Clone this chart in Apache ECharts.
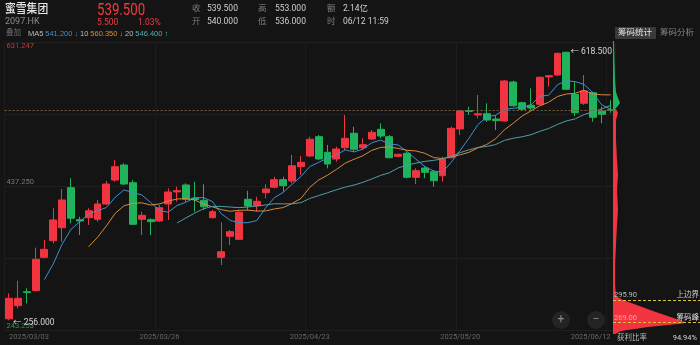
<!DOCTYPE html>
<html><head><meta charset="utf-8">
<script src="https://cdn.jsdelivr.net/npm/echarts@6/dist/echarts.min.js"></script>
<style>html,body{margin:0;padding:0;background:#141414;}#c{width:700px;height:345px;}</style>
</head><body><div id="c"></div>
<script>
const dates = ['2025/03/03','2025/03/04','2025/03/05','2025/03/06','2025/03/07','2025/03/10','2025/03/11','2025/03/12','2025/03/13','2025/03/14','2025/03/17','2025/03/18','2025/03/19','2025/03/20','2025/03/21','2025/03/24','2025/03/25','2025/03/26','2025/03/27','2025/03/28','2025/03/31',
'2025/04/01','2025/04/02','2025/04/03','2025/04/07','2025/04/08','2025/04/09','2025/04/10','2025/04/11','2025/04/14','2025/04/15','2025/04/16','2025/04/17','2025/04/22','2025/04/23','2025/04/24','2025/04/25','2025/04/28','2025/04/29','2025/04/30',
'2025/05/02','2025/05/06','2025/05/07','2025/05/08','2025/05/09','2025/05/12','2025/05/13','2025/05/14','2025/05/15','2025/05/16','2025/05/19','2025/05/20','2025/05/21','2025/05/22','2025/05/23','2025/05/26','2025/05/27','2025/05/28','2025/05/29','2025/05/30',
'2025/06/02','2025/06/03','2025/06/04','2025/06/05','2025/06/06','2025/06/09','2025/06/10','2025/06/11','2025/06/12'];
const opens = [258,275.7,294.5,296,341,363.4,381,435,391.8,394.5,392.3,413,445.3,465.6,441.7,392.3,391.8,390,413,429.2,438.6,
421,417.9,394.5,341,369.4,365.3,419.3,410.7,428.2,435.5,445.8,444,463.3,477.7,503.8,482.7,473.7,488.9,508.4,
488.9,500.7,513.8,503.8,477.3,481.4,449,461.5,456.5,451.1,475.4,514.2,539,533.1,534.8,527.7,525,577.6,549.7,546.2,
547.5,584.4,587,617.7,561,548.9,563.2,538.5,540];
const closes = [285.7,285.7,293.5,338.3,351.8,391.4,418.4,393.7,390,403.9,413,439.9,463.3,439.9,385.6,397.7,389.1,408,429.2,431,419.3,
419,409.3,402.6,348.6,375.6,401.8,410.3,416.6,433.2,445.8,437.7,464.6,469.2,500.3,473.7,466.9,487.2,501.6,486.8,
493,509.7,504.7,475.4,480,449,457.9,455.7,444.4,473.3,515.1,538.5,538,534.8,526.3,525.4,579,545.6,540.8,542.5,
584,586.1,616.3,567.8,536.2,565.5,530,534,539.5];
const lows = [256,272.2,279,294.5,339.7,359.9,362.1,386.9,371.1,384.6,389.1,411.6,443.1,438.6,384.6,371.1,371,389,391.4,416,416,
402.6,404.9,393.7,330.6,357.6,364.4,404.9,402.6,420.7,434.1,429.6,440.9,452.1,476,472.3,461.1,470,485.8,483.5,
485.8,499.3,501.6,474.6,476,447.6,439.9,447.6,436.3,443.1,474.6,506.1,533.1,528.6,524,512.8,524,544.3,539.8,539.8,
546.6,571.3,586.1,566.8,531.7,546.6,524,521.9,536];
const highs = [292.4,309.4,299.2,354,364.4,407.2,433.2,447.6,395.8,407.2,418.4,444,472.3,467.9,445.3,402.6,393.7,411.6,434.1,436.3,440.9,
443,439.5,404.9,388.3,377.9,403.9,430.9,422.8,439.5,449.8,449.8,479.1,477.7,503.8,506.1,492.6,490.3,533.1,517.3,
501.6,512.8,521.9,506.1,481,483.5,461.1,464.2,458.8,476.8,517.3,539.8,544.3,560.1,548.9,533.1,580.3,579.4,551,569.1,
584.8,587,617.2,618.5,578,587,564.5,544.3,553];
const ma5 = ['-','-','-','-',311.0,332.14,358.68,378.72,389.06,399.48,403.8,408.1,422.02,432.0,428.34,425.28,415.12,404.06,401.92,411.0,415.32,
421.3,421.56,416.24,399.76,391.02,387.58,387.78,390.58,407.5,421.54,428.72,439.58,450.1,463.52,469.1,474.94,479.46,485.94,483.24,
487.1,495.66,499.16,493.92,492.56,483.76,473.4,463.6,457.4,456.06,469.28,485.4,501.86,519.94,530.54,532.6,540.7,542.22,543.42,546.66,
558.38,559.8,573.94,579.34,578.08,574.38,563.16,546.7,541.04];
const ma10 = ['-','-','-','-','-','-','-','-','-',355.24,367.97,383.39,400.37,410.53,413.91,414.54,411.61,413.04,416.96,419.67,420.3,
418.21,412.81,409.08,405.38,403.17,404.44,404.67,403.41,403.63,406.28,408.15,413.68,420.34,435.51,445.32,451.83,459.52,468.02,473.38,
478.1,485.3,489.31,489.93,487.9,485.43,484.53,481.38,475.66,474.31,476.52,479.4,482.73,488.67,493.3,500.94,513.05,522.04,531.68,538.6,
545.49,550.25,558.08,561.38,562.37,566.38,561.48,560.32,560.19];
const ma20 = ['-','-','-','-','-','-','-','-','-','-','-','-','-','-','-','-','-','-','-',387.46,394.14,
400.8,406.59,409.81,409.65,408.86,408.03,408.86,410.19,411.65,413.29,413.18,413.25,414.71,420.45,424.25,428.14,432.1,435.72,438.51,
442.19,446.73,451.5,455.14,461.71,465.38,468.18,470.45,471.84,473.85,477.31,482.35,486.02,489.3,490.6,493.19,498.79,501.71,503.67,506.46,
511.01,514.83,520.41,525.03,527.84,533.66,537.27,541.18,545.94];
const yTickLabels = ['243.253','','437.250','','631.247'];
const yMin = 243.253, yMax = 631.247;
const lastPrice = 539.5;
const chipGreenPrices = [602.8,580.3,556.6,542.4,535.3,529.3,524.6,522.2];
const chipGreenWidths = [1,1.5,2,3,5,7,4,2];
const chipRedPrices = [522.2,517.5,509.2,485.5,461.8,444.0,426.3,402.6,384.8,361.1,337.4,313.7,300.6,295.9,282.9,269.8,268.0,263.9,259.1,255.6];
const chipRedWidths = [3,5,3,3,4,5,4,5,4,3,2,2,3,10,40,72,70,35,8,2];
const chipUpper = 295.90, chipPeak = 269.00;

const FF = 'Roboto, "Noto Sans CJK SC", sans-serif';
const UP = '#f23340', DOWN = '#1fb35c';
const candleData = opens.map((o, i) => [o, closes[i], lows[i], highs[i]]);

const chart = echarts.init(document.getElementById('c'), null, {renderer: 'canvas'});
const txt = (x, y, text, fill, size, extra, props) => Object.assign({type: 'text', x, y, silent: true,
  style: Object.assign({text, fill, fontSize: size, fontFamily: FF, verticalAlign: 'middle', align: 'left'}, extra || {})}, props || {});

chart.setOption({
  backgroundColor: '#141414',
  animation: false,
  grid: [
    {left: 4.6, right: 85, top: 42.25, bottom: 15.25},
    {left: 613, width: 87, top: 40, height: 295}
  ],
  xAxis: [
    {type: 'category', data: dates, gridIndex: 0, boundaryGap: true,
     axisLine: {show: false}, axisTick: {show: false},
     axisLabel: {interval: 16, color: '#666', fontSize: 7.5, fontFamily: FF, margin: 4, alignMinLabel: 'left', alignMaxLabel: 'right'},
     splitLine: {show: true, interval: 16, lineStyle: {color: '#1c1c1c'}}},
    {type: 'value', gridIndex: 1, min: 0, max: 87, show: false}
  ],
  yAxis: [
    {type: 'value', gridIndex: 0, min: yMin, max: yMax, interval: (yMax - yMin) / 4,
     axisLine: {show: false}, axisTick: {show: false},
     splitLine: {lineStyle: {color: '#1f1f1f'}},
     axisLabel: {inside: true, margin: 2, fontSize: 7.5, fontFamily: FF, showMinLabel: true, showMaxLabel: true,
       verticalAlign: 'bottom', verticalAlignMaxLabel: 'top', verticalAlignMinLabel: 'bottom',
       formatter: (v, i) => { const t = yTickLabels[i]; if (!t) return ''; const k = i === 0 ? 'lo' : (i === 4 ? 'hi' : 'mid'); return '{' + k + '|' + t + '}'; },
       rich: {lo: {color: '#2f9a4e', fontSize: 7.5}, mid: {color: '#777', fontSize: 7.5}, hi: {color: '#d3323c', fontSize: 7.5}}}},
    {type: 'value', gridIndex: 1, min: 254.4, max: 604, show: false}
  ],
  series: [
    {type: 'candlestick', name: 'K', data: candleData, xAxisIndex: 0, yAxisIndex: 0, barWidth: '84%',
     itemStyle: {color: UP, color0: DOWN, borderColor: UP, borderColor0: DOWN, borderWidth: 1},
     markLine: {silent: true, symbol: ['none', 'none'], label: {show: false},
       lineStyle: {color: '#7a6037', type: [2, 2], width: 1}, data: [{yAxis: lastPrice}]},
     markPoint: {symbol: 'circle', symbolSize: 0.1,
       label: {show: true, position: 'right', distance: 4, color: '#d6d6d6', fontSize: 8.5, fontFamily: FF,
         formatter: p => '← ' + Number(p.value).toFixed(3)},
       data: [{type: 'max', valueDim: 'highest'}, {type: 'min', valueDim: 'lowest', label: {offset: [0, 3]}}]}},
    {type: 'line', name: 'MA5', data: ma5, symbol: 'none', lineStyle: {color: '#3f8fd2', width: 1}, itemStyle: {color: '#3f8fd2'}},
    {type: 'line', name: 'MA10', data: ma10, symbol: 'none', lineStyle: {color: '#d68a3f', width: 1}, itemStyle: {color: '#d68a3f'}},
    {type: 'line', name: 'MA20', data: ma20, symbol: 'none', lineStyle: {color: '#4f9ea6', width: 1}, itemStyle: {color: '#4f9ea6'}},
    {type: 'custom', name: 'chips', xAxisIndex: 1, yAxisIndex: 1, clip: false, silent: true,
     data: [[0, chipGreenPrices[0]], [0, chipRedPrices[0]]],
     renderItem: (params, api) => {
       const green = params.dataIndex === 0;
       const ps = green ? chipGreenPrices : chipRedPrices;
       const ws = green ? chipGreenWidths : chipRedWidths;
       const pts = [api.coord([0, ps[0]])];
       ps.forEach((p, i) => pts.push(api.coord([ws[i], p])));
       pts.push(api.coord([0, ps[ps.length - 1]]));
       return {type: 'polygon', shape: {points: pts}, style: {fill: green ? '#1fb35c' : '#f23340'}};
     },
     markLine: {silent: true, symbol: ['none', 'none'], lineStyle: {color: '#d9c23c', type: [3, 2], width: 1},
       label: {fontSize: 7.5, fontFamily: FF, distance: 1},
       data: [
         {yAxis: chipUpper, label: {position: 'insideStartTop', formatter: chipUpper.toFixed(2), color: '#bbb'}},
         {yAxis: chipUpper, label: {position: 'insideEndTop', formatter: '上边界', color: '#ccc'}},
         {yAxis: chipPeak, label: {position: 'insideStartTop', formatter: chipPeak.toFixed(2), color: '#f3a5a5'}},
         {yAxis: chipPeak, label: {position: 'insideEndTop', formatter: '筹码峰', color: '#ddd'}}
       ]}}
  ],
  graphic: [
    txt(5, 10, '蜜雪集团', '#e6e6e6', 12, {fontWeight: 500}, {scaleX: 0.9}),
    txt(5, 22, '2097.HK', '#8a8a8a', 9),
    txt(97, 10.5, '539.500', '#f23a3f', 17, {}, {scaleX: 0.78}),
    txt(97, 22.5, '5.500', '#f23a3f', 8.5),
    txt(138, 22.5, '1.03%', '#f23a3f', 8.5),
    txt(192, 9, '收', '#7d7d7d', 8.5), txt(207, 9, '539.500', '#cfcfcf', 8.5),
    txt(192, 22, '开', '#7d7d7d', 8.5), txt(207, 22, '540.000', '#cfcfcf', 8.5),
    txt(258, 9, '高', '#7d7d7d', 8.5), txt(275, 9, '553.000', '#cfcfcf', 8.5),
    txt(258, 22, '低', '#7d7d7d', 8.5), txt(275, 22, '536.000', '#cfcfcf', 8.5),
    txt(327, 9, '额', '#7d7d7d', 8.5), txt(343, 9, '2.14亿', '#cfcfcf', 8.5),
    txt(327, 22, '时', '#7d7d7d', 8.5), txt(343, 22, '06/12 11:59', '#cfcfcf', 8.5),
    txt(6, 33.5, '叠加', '#6f6f6f', 7.5),
    {type: 'text', x: 28, y: 33.5, silent: true, style: {
      text: '{w|MA5} {b|541.200 ↓} {w|10} {o|560.350 ↓} {w|20} {t|546.400 ↑}',
      fontSize: 7.5, fontFamily: FF, verticalAlign: 'middle',
      rich: {w: {fill: '#bdbdbd', fontSize: 7.5}, b: {fill: '#3f8fd2', fontSize: 7.5}, o: {fill: '#d68a3f', fontSize: 7.5}, t: {fill: '#4fb0b5', fontSize: 7.5}}}},
    {type: 'rect', shape: {x: 615, y: 27, width: 41, height: 12, r: 1}, style: {fill: '#3a3a3a'}, silent: true},
    txt(618, 33, '筹码统计', '#e2e2e2', 8.5),
    txt(660, 33, '筹码分析', '#858585', 8.5),
    {type: 'circle', shape: {cx: 561, cy: 320, r: 9}, style: {fill: '#242424'}, silent: true},
    txt(561, 320, '+', '#8a8a8a', 12, {align: 'center'}),
    {type: 'circle', shape: {cx: 596, cy: 320, r: 9}, style: {fill: '#242424'}, silent: true},
    txt(596, 320, '−', '#8a8a8a', 12, {align: 'center'}),
    txt(617, 338.5, '获利比率', '#b5b5b5', 7.5),
    txt(697, 338.5, '94.94%', '#d5d5d5', 7.5, {align: 'right'})
  ]
});
</script></body></html>
